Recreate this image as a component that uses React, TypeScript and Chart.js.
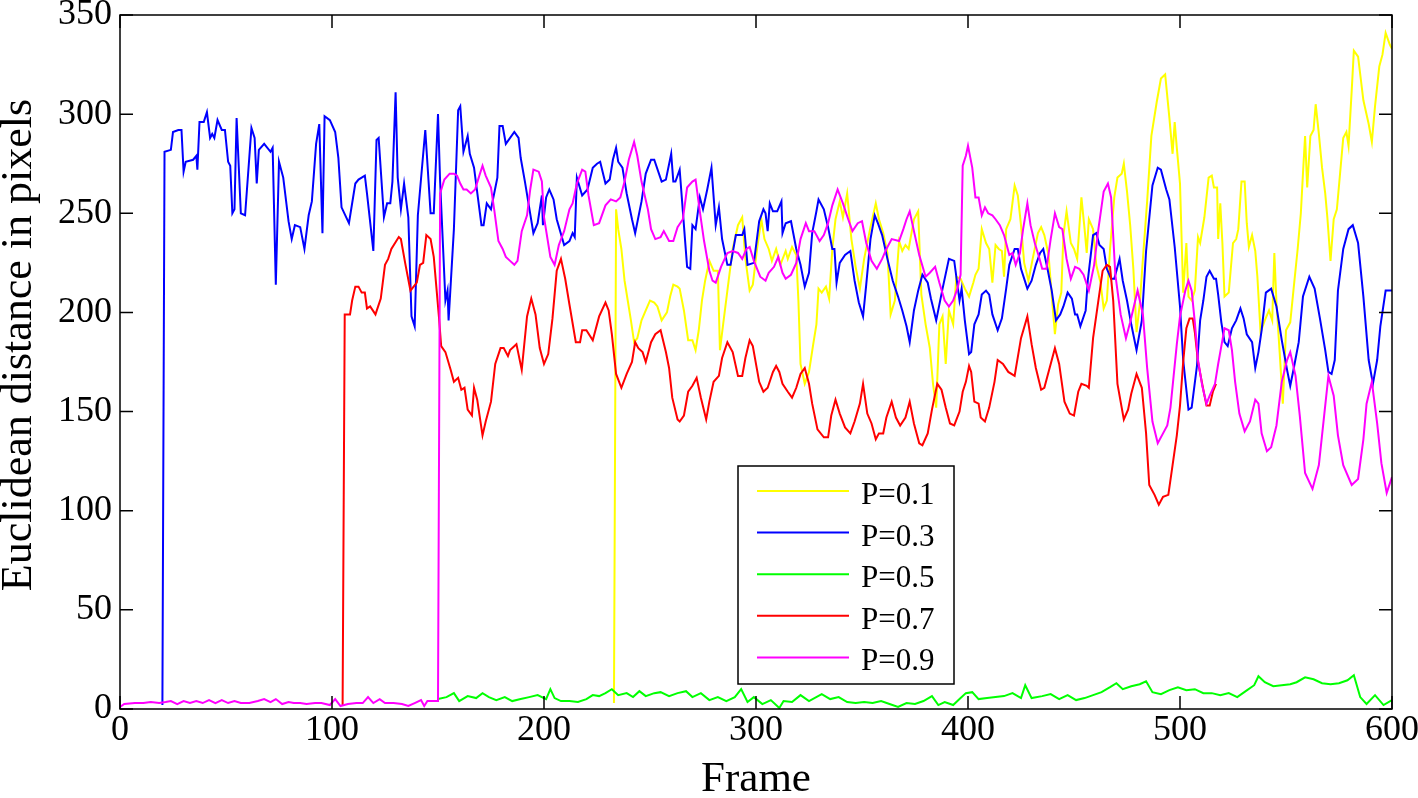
import React, { useEffect, useRef } from "react";
import { Chart, registerables } from "chart.js";

Chart.register(...registerables);

const FONT = '"Liberation Serif", "Times New Roman", serif';

const seriesLabels = ["P=0.1", "P=0.3", "P=0.5", "P=0.7", "P=0.9"];
const seriesColors = ["#ffff00", "#0000ff", "#00ff00", "#ff0000", "#ff00ff"];
const xTitle = "Frame";
const yTitle = "Euclidean distance in pixels";
const xMin = 0, xMax = 600, xStep = 100;
const yMin = 0, yMax = 350, yStep = 50;

// [frame, distance] pairs
const yellowSeries: [number, number][] = [
  [233,3],[234,252],[235,242],[236.5,232],[238,216],[239.5,206],[241,196],[242.5,185],[244,187],[246,196],[248,201],[250,206],[252,205],[253.5,203],[255.5,196],[258,200],[259.5,208],[261,214],[263,213],[264,212],[266,201],[268,186],[270,186],[271.5,181],[273,191],[274.5,206],[276,216],[278,226],[280,221],[282,221],[283,181],[284.5,194],[286.5,211],[289,232],[291.5,244],[293.5,248],[295,227],[297,211],[298.5,214],[300.5,232],[302.5,247],[304,237],[306,232],[307.5,226],[309.5,232],[311.5,224],[314,231],[315,227],[317,233],[319,229],[320,206],[321,174],[323,164],[325,170],[327,184],[328.5,194],[329.5,212],[331,210],[333,213],[334.5,207],[336,232],[337.5,247],[339.5,256],[341,248],[343,260],[345,237],[347,223],[349,212],[351,227],[354,243],[356.5,255],[358,247],[360,240],[362,230],[363.5,199],[365.5,206],[367.5,236],[369,231],[370.5,234],[372,232],[374.5,247],[376.5,251],[378,209],[380,194],[382,182],[383.5,164],[385,152],[386.5,194],[388,198],[389.5,174],[391,201],[393,194],[394.5,218],[396.5,217],[398.5,212],[400.5,208],[402.5,215],[403.5,219],[405,222],[406.5,242],[408.5,235],[410,232],[411.5,215],[413,234],[414.5,232],[416,231],[417,218],[418,242],[420,247],[422,264],[423.5,259],[425,244],[426.5,225],[428.5,216],[430.5,227],[433,240],[434.5,243],[436,239],[438,229],[440,202],[441,189],[442.5,204],[444,210],[445,239],[446.5,251],[448.5,235],[450,232],[451.5,227],[453.5,258],[455,242],[456,230],[457,247],[459,242],[460.5,224],[462.5,215],[464,202],[465.5,206],[467,232],[469,258],[470.5,268],[472.5,270],[473.5,275],[475,261],[476.5,244],[478,222],[479.5,190],[481,204],[482.5,227],[484.5,256],[486.5,289],[489,306],[491,318],[493,320],[495,298],[496.5,280],[497.5,296],[498.5,283],[500,265],[501.5,210],[503,235],[504,208],[505.5,206],[507,211],[508.5,238],[509.5,235],[511.5,248],[513.5,268],[515,269],[516,263],[517.5,263],[518,237],[519,255],[520,235],[521,208],[523,210],[525,235],[526.5,237],[527.5,242],[529,266],[530.5,266],[531.5,245],[532.5,233],[534,239],[535.5,231],[536.5,218],[538,190],[540,196],[542,201],[543.5,196],[544.5,230],[545.5,205],[547,180],[548.5,154],[550,191],[552,195],[553.5,211],[555.5,232],[557,250],[558,270],[559,289],[560,263],[561.5,289],[563,292],[564,305],[565.5,290],[567,273],[568.5,260],[569.5,248],[571,226],[572.5,247],[574,252],[575.5,270],[577,288],[578.5,291],[579.5,284],[581,312],[582,332],[584,329],[586.5,307],[589,295],[590.5,286],[592,304],[594,324],[595.5,330],[597,341],[599,335],[600,333]
];

const blueSeries: [number, number][] = [
  [20,2],[21,281],[24,282],[25,291],[27.5,292],[29,292],[30,271],[31,276],[34.5,277],[36,279],[36.5,272],[37.5,296],[39.5,296],[41,301],[42.5,288],[43.5,290],[44.5,288],[46,297],[48,292],[49.5,292],[51,276],[52,274],[53,250],[54,252],[55,298],[57,250],[59,249],[62,293],[63.5,288],[64.5,265],[65.5,282],[68,285],[71,281],[72,283],[73.5,214],[75,276],[77,268],[79.5,246],[81,237],[82.5,244],[85,243],[87,232],[89,249],[90.5,256],[92.5,285],[94,295],[95.5,240],[96.5,299],[99,297],[101.5,291],[103,278],[104.5,253],[108,245],[111,265],[112.5,267],[115.5,269],[116.5,260],[119.5,231],[121,287],[122,288],[124.5,248],[126,255],[127.5,255],[128.5,266],[130,311],[131,268],[132.5,252],[134,265],[136,248],[137.5,198],[139,193],[140.5,249],[144,292],[146.5,250],[148,250],[150,300],[151,266],[153.5,206],[154.5,211],[155,196],[157.5,242],[159.5,302],[160.5,304],[162,281],[164,289],[165,280],[167,273],[170.5,244],[171.5,244],[173,255],[175,252],[178,268],[179,294],[180.5,294],[182,285],[186,291],[188,288],[189,278],[191,266],[195,240],[197,245],[199,259],[199.5,244],[201,258],[202.5,262],[204.5,257],[206,247],[209.5,234],[212,236],[213.5,240],[214.5,238],[215.5,268],[218,259],[220.5,262],[223,273],[225,275],[226.5,276],[229,265],[231,267],[232.5,277],[234,283],[235,276],[237,273],[239,260],[241.5,247],[243,240],[246,256],[248,270],[250.5,277],[252,277],[255.5,266],[257.5,267],[260,280],[261,266],[262,266],[264,272],[265.5,251],[267.5,223],[269,222],[270,244],[271.5,242],[273.5,258],[275,252],[277,262],[279,273],[281,244],[282.5,253],[284,237],[286.5,224],[288,224],[290.5,239],[293.5,239],[294.5,242],[296,224],[299,225],[301.5,246],[303.5,252],[304.5,250],[305.5,241],[306.5,255],[308,251],[310,251],[312,256],[312.5,240],[314,245],[316.5,246],[319,232],[321,224],[323,213],[325,220],[326.5,240],[328.5,251],[329.5,257],[332,252],[334,243],[336,232],[337,232],[338,215],[339.5,225],[342,229],[344.5,231],[346.5,216],[348.5,205],[350.5,198],[352,214],[354,237],[356,249],[357.5,245],[359.5,239],[362,227],[364.5,216],[367,208],[369,201],[371,193],[372.5,185],[374.5,201],[376.5,211],[378.5,219],[381,215],[382.5,207],[385,196],[388,212],[391,227],[393.5,226],[396,206],[397,212],[398.5,196],[400.5,179],[401.5,180],[403,194],[405,199],[406.5,209],[408.5,211],[410,209],[411.5,199],[414,191],[416,197],[418,212],[419.5,224],[422,232],[423.5,232],[425,222],[428,212],[430,216],[432,224],[434,230],[435.5,232],[437.5,222],[439.5,211],[441.5,196],[443.5,199],[445,203],[447,210],[449,207],[450.5,199],[451.5,199],[453,193],[455.5,201],[456.5,216],[459,239],[460.5,240],[462,234],[464,232],[465.5,222],[467.5,217],[469,217],[471.5,227],[473,216],[475,206],[477,194],[479.5,181],[482,196],[484,231],[487,264],[489.5,273],[491,272],[493.5,262],[495,257],[497.5,233],[500,203],[501.5,176],[504,151],[505.5,152],[508,173],[509.5,196],[511,206],[512.5,218],[514,221],[516,217],[517,217],[518,209],[519.5,195],[521,185],[522.5,183],[524.5,192],[526.5,196],[528.5,202],[530,197],[531.5,189],[534,185],[535.5,172],[537,180],[538.5,191],[540.5,210],[543,212],[545.5,203],[548,186],[550.5,171],[552,163],[553.5,171],[556,185],[558,208],[561,218],[563.5,212],[566,197],[568.5,181],[570,170],[571.5,169],[573,176],[574.5,211],[577,232],[579.5,242],[581.5,244],[584,235],[586.5,208],[589,176],[591,164],[593,176],[594.5,193],[597,211],[600,211]
];

const greenSeries: [number, number][] = [
  [150,5],[154,6],[157.5,8],[160,4],[164,6.5],[168,5.5],[171,8],[174,6],[177.5,4.5],[181.5,6],[185,4],[189,5],[193,6],[197,7],[201,5],[203,10],[205,5.5],[208,4],[212,4],[216,3.5],[220,5],[223,7],[226,6.5],[229,8],[232,10],[235,7],[239,8],[242,6],[245,9],[248,6.5],[252,8],[255,8.5],[259,6.5],[263,8],[267,9],[270,6],[274,8],[278,4.5],[282,6],[286,4],[290,6],[293,10],[296,3.5],[299,6],[303,2.5],[307,4.5],[311,0.5],[313,4],[317,3.5],[321,7],[325,4],[331,7.5],[335,5],[339,6],[343,3.5],[347,3],[351,3.5],[355,3],[359,4],[363,2.5],[367,1],[371,3],[375,2.5],[379,4],[383,6.5],[386,2],[389,3.5],[393,2],[396,5],[399,8],[402,8.5],[405,5],[409,5.5],[413,6],[417,6.5],[421,8],[425,5.5],[427,12],[430,5.5],[435,6.5],[439,7.5],[443,5],[447,7],[451,4.5],[455,5.5],[459,7],[463,8.5],[467,11],[470,13],[473,10],[477,11.5],[481,12.5],[484,14],[487,8.5],[491,7.5],[495,9.5],[499,11],[503,9.5],[507,10],[511,8],[515,8],[519,7],[523,8],[527,6],[531,9],[535,12],[537,16.5],[540,13.5],[544,11.5],[548,12],[552,12.5],[555,13.5],[559,16],[563,15],[567,13],[571,12.5],[575,13],[579,14.5],[582,17],[585,6],[588,2.5],[592,7],[596,2],[600,4.5]
];

const redSeries: [number, number][] = [
  [105,2],[106,199],[107,199],[108.5,199],[109.5,206],[111,213],[112.5,213],[114,210],[115.5,210],[116.5,202],[118,203],[120.5,199],[123,207],[125,224],[126.5,227],[128,232],[131.5,238],[132.5,237],[134.5,225],[137,211],[138.5,213],[140,215],[141.5,224],[143,225],[144.5,239],[146.5,237],[148,228],[150.5,197],[151.5,183],[153.5,180],[156,171],[157.5,165],[159.5,167],[161,161],[162.5,162],[164,151],[166,148],[167,162],[168.5,156],[171,138],[172.5,145],[175,155],[177,174],[179.5,182],[181,182],[183,178],[184,181],[187,184],[189.5,171],[192,198],[194,207],[196,199],[198,182],[200,174],[202,179],[204,197],[206,221],[208,227],[210,217],[212,204],[215,185],[217,185],[218,191],[220,191],[223,186],[226,198],[229,205],[230.5,201],[232,189],[234,169],[236.5,162],[239,169],[241.5,175],[243,185],[244.5,182],[246.5,180],[248,175],[250.5,185],[252.5,189],[255,191],[257.5,180],[259,172],[260.5,157],[263,146],[264,145],[266,148],[268,160],[270,163],[272,167],[274,157],[276.5,146],[278,155],[280,165],[282.5,168],[284,177],[286.5,185],[289,180],[291.5,168],[293.5,168],[295,177],[297,186],[298.5,183],[301.5,165],[303.5,160],[305.5,162],[308,170],[309.5,173],[311,170],[312.5,164],[315,160],[317,157],[319,162],[321,169],[323,172],[325,164],[326.5,154],[329,141],[332,137],[334,137],[335.5,148],[337.5,156],[339.5,149],[342,142],[344.5,139],[346.5,145],[349,154],[350.5,164],[352.5,149],[354.5,144],[356.5,136],[358,139],[360,139],[361.5,147],[364,155],[366,147],[368,143],[370.5,147],[372.5,155],[374.5,144],[377,134],[378.5,133],[381,139],[383,151],[385.5,164],[387.5,161],[389.5,152],[391.5,144],[393.5,143],[396,150],[397.5,160],[399,165],[400.5,173],[401.5,170],[403,155],[405,154],[406,147],[408,145],[410,152],[412.5,165],[414,176],[416.5,174],[419,170],[422,168],[425,187],[428,198],[430,184],[432,172],[434.5,161],[436,162],[438.5,172],[441,182],[443,174],[445.5,155],[448,149],[450,148],[452,160],[453.5,164],[456,163],[457,162],[459,187],[461.5,206],[463.5,221],[465.5,224],[467,223],[468.5,206],[470.5,164],[472.5,152],[473.5,146],[475.5,151],[477,159],[479.5,169],[482,162],[484,139],[485.5,113],[488,108],[490,103],[492,107],[494.5,108],[496.5,123],[498.5,138],[500,153],[501.5,175],[503,192],[504.5,197],[506,197],[507,190],[508.5,175],[511,161],[512.5,153],[514,153],[515.5,160],[517,164]
];

const magentaSeries: [number, number][] = [
  [0,1],[2,2.5],[7,3],[11,3],[14.5,3.5],[18.5,3],[21.5,3.5],[24,4],[27,2.5],[30,4],[33,3],[36,4],[39,3],[42,4.5],[45,3],[48,4.5],[51,3],[54,4],[57,3],[61,3],[65,4],[68,5],[71,3.5],[73.5,5],[76.5,2.5],[79.5,3.5],[82,3],[85,3],[88,2.5],[92,3],[95,3],[99,2],[101.5,5],[104,1.5],[107.5,2.5],[111.5,3],[114.5,3],[117,6],[119.5,3],[122.5,5],[125,3],[129,3],[133,2.5],[136,1.5],[139,3],[142,4.5],[143.5,1.5],[145,4],[150,4],
  [151,260],[153,267],[155.5,270],[157.5,270],[159,269],[160.5,265],[162,262],[163.5,262],[165.5,260],[167.5,262],[169.5,269],[171,274],[172.5,269],[175,263],[176.5,252],[178.5,236],[180.5,232],[182,228],[184,226],[186,224],[187.5,226],[189.5,241],[192,249],[193.5,262],[195,272],[197.5,271],[199,266],[200,248],[203,228],[205,224],[207,234],[209.5,241],[212,252],[213.5,255],[215.5,265],[218,272],[219.5,271],[221,259],[223.5,244],[226,245],[229,254],[231.5,257],[234,256],[236,258],[238,266],[240,277],[242.5,286],[244,279],[246,266],[249,252],[250.5,242],[252.5,237],[255,238],[256.5,241],[259,236],[261,236],[263,243],[265.5,247],[267.5,263],[270,266],[271.5,267],[273.5,251],[275.5,236],[278,221],[279.5,216],[281,215],[283.5,223],[286.5,230],[289,231],[291.5,230],[293.5,227],[295.5,232],[297,233],[299,226],[302,218],[304.5,216],[306,220],[308.5,223],[310.5,228],[312.5,220],[314,217],[316.5,219],[319,225],[321,237],[323.5,245],[325,241],[327.5,241],[330,236],[332,239],[334,245],[336,254],[338.5,262],[341,255],[343.5,247],[345.5,241],[348,245],[350,246],[352,235],[354.5,226],[357,222],[359.5,227],[361.5,232],[364,237],[367.5,236],[369.5,242],[371,247],[372.5,251],[374.5,241],[377,229],[380,218],[382,220],[384.5,223],[386.5,215],[389,206],[391,203],[393,206],[395,212],[396.5,219],[397.5,274],[399,279],[400,284],[402,273],[403.5,258],[405,258],[406.5,249],[408,253],[409.5,250],[411.5,249],[413,247],[415,244],[417,239],[419.5,229],[421,230],[422.5,224],[424.5,230],[426,242],[428,255],[429.5,244],[431.5,235],[433.5,228],[435,222],[437,222],[439,237],[441,250],[443,243],[444.5,242],[446.5,227],[448.5,217],[450.5,223],[452.5,222],[454.5,219],[457,211],[459.5,224],[461.5,242],[464,261],[466,265],[467.5,258],[469.5,219],[472,199],[474.5,187],[476.5,195],[480,211],[482.5,199],[484.5,172],[487,145],[489.5,134],[492,139],[494,143],[495.5,152],[497,168],[498.5,184],[500,198],[502.5,211],[504,216],[505.5,211],[507,195],[508.5,176],[510.5,163],[512.5,154],[514,158],[516.5,164],[518,174],[519.5,183],[521,192],[523,191],[524.5,181],[526,165],[528,149],[530.5,140],[533,145],[535.5,156],[537,154],[538.5,139],[541,130],[543,132],[545.5,143],[548,165],[550.5,176],[552,180],[554.5,168],[556.5,148],[559,119],[562.5,111],[565.5,123],[567.5,143],[570,168],[572.5,158],[574.5,138],[577,123],[581,113],[584,116],[586.5,136],[588,154],[590.5,165],[593,144],[595,124],[597.5,109],[600,117]
];

const allSeries = [yellowSeries, blueSeries, greenSeries, redSeries, magentaSeries];

const boxPlugin = {
  id: "boxTicksLegend",
  afterDraw(chart: any) {
    const { ctx, chartArea: a, scales } = chart;
    const xs = scales.x, ys = scales.y;
    ctx.save();
    ctx.strokeStyle = "#000";
    ctx.lineWidth = 1.5;
    ctx.strokeRect(a.left, a.top, a.right - a.left, a.bottom - a.top);
    const L = 13;
    ctx.beginPath();
    xs.ticks.forEach((t: any) => {
      const px = xs.getPixelForValue(t.value);
      ctx.moveTo(px, a.bottom); ctx.lineTo(px, a.bottom - L);
      ctx.moveTo(px, a.top); ctx.lineTo(px, a.top + L);
    });
    ys.ticks.forEach((t: any) => {
      const py = ys.getPixelForValue(t.value);
      ctx.moveTo(a.left, py); ctx.lineTo(a.left + L, py);
      ctx.moveTo(a.right, py); ctx.lineTo(a.right - L, py);
    });
    ctx.stroke();

    // y-axis title
    ctx.save();
    ctx.translate(19, 345);
    ctx.rotate(-Math.PI / 2);
    ctx.font = `44px ${FONT}`;
    ctx.fillStyle = "#000";
    ctx.textAlign = "center";
    ctx.textBaseline = "middle";
    ctx.fillText(yTitle, 0, 0);
    ctx.restore();

    // legend box
    const bx = a.left + 618, by = a.top + 451, bw = 216, bh = 218;
    ctx.fillStyle = "#fff";
    ctx.fillRect(bx, by, bw, bh);
    ctx.lineWidth = 1.5;
    ctx.strokeStyle = "#000";
    ctx.strokeRect(bx, by, bw, bh);
    ctx.font = `31px ${FONT}`;
    ctx.textBaseline = "alphabetic";
    ctx.textAlign = "left";
    chart.data.datasets.forEach((ds: any, i: number) => {
      const ly = by + 25 + i * 41.6;
      ctx.strokeStyle = ds.borderColor;
      ctx.lineWidth = 2;
      ctx.beginPath();
      ctx.moveTo(bx + 19, ly);
      ctx.lineTo(bx + 111, ly);
      ctx.stroke();
      ctx.fillStyle = "#000";
      ctx.fillText(ds.label, bx + 123, ly + 13);
    });
    ctx.restore();
  },
};

export default function App() {
  const ref = useRef<HTMLCanvasElement>(null);
  useEffect(() => {
    if (!ref.current) return;
    const chart = new Chart(ref.current, {
      type: "line",
      data: {
        datasets: allSeries.map((s, i) => ({
          label: seriesLabels[i],
          data: s.map(([x, y]) => ({ x, y })),
          borderColor: seriesColors[i],
          backgroundColor: seriesColors[i],
          borderWidth: 2,
          pointRadius: 0,
          tension: 0,
          fill: false,
          order: 5 - i,
        })),
      },
      options: {
        animation: false,
        responsive: false,
        devicePixelRatio: 1,
        layout: { padding: { left: 0, top: 15, right: 26, bottom: 0 } },
        plugins: { legend: { display: false }, tooltip: { enabled: false }, title: { display: false } },
        scales: {
          x: {
            type: "linear",
            min: xMin,
            max: xMax,
            ticks: { stepSize: xStep, color: "#000", font: { family: FONT, size: 36 }, padding: 0, maxRotation: 0, autoSkip: false },
            grid: { display: false, drawTicks: false },
            border: { display: false },
            title: { display: true, text: xTitle, color: "#000", font: { family: FONT, size: 43, lineHeight: 0.85 }, padding: 0 },
            afterFit: (s: any) => { s.height = 89; s.paddingLeft = 0; s.paddingRight = 0; },
          },
          y: {
            type: "linear",
            min: yMin,
            max: yMax,
            ticks: { stepSize: yStep, color: "#000", font: { family: FONT, size: 36 }, padding: 8 },
            grid: { display: false, drawTicks: false },
            border: { display: false },
            title: { display: false, text: yTitle },
            afterFit: (s: any) => { s.width = 120; s.paddingTop = 0; s.paddingBottom = 0; },
          },
        },
      },
      plugins: [boxPlugin],
    });
    return () => chart.destroy();
  }, []);
  return (
    <div style={{ position: "absolute", left: 0, top: 0, width: 1418, height: 798, background: "#fff" }}>
      <canvas ref={ref} width={1418} height={798} style={{ display: "block" }} />
    </div>
  );
}
